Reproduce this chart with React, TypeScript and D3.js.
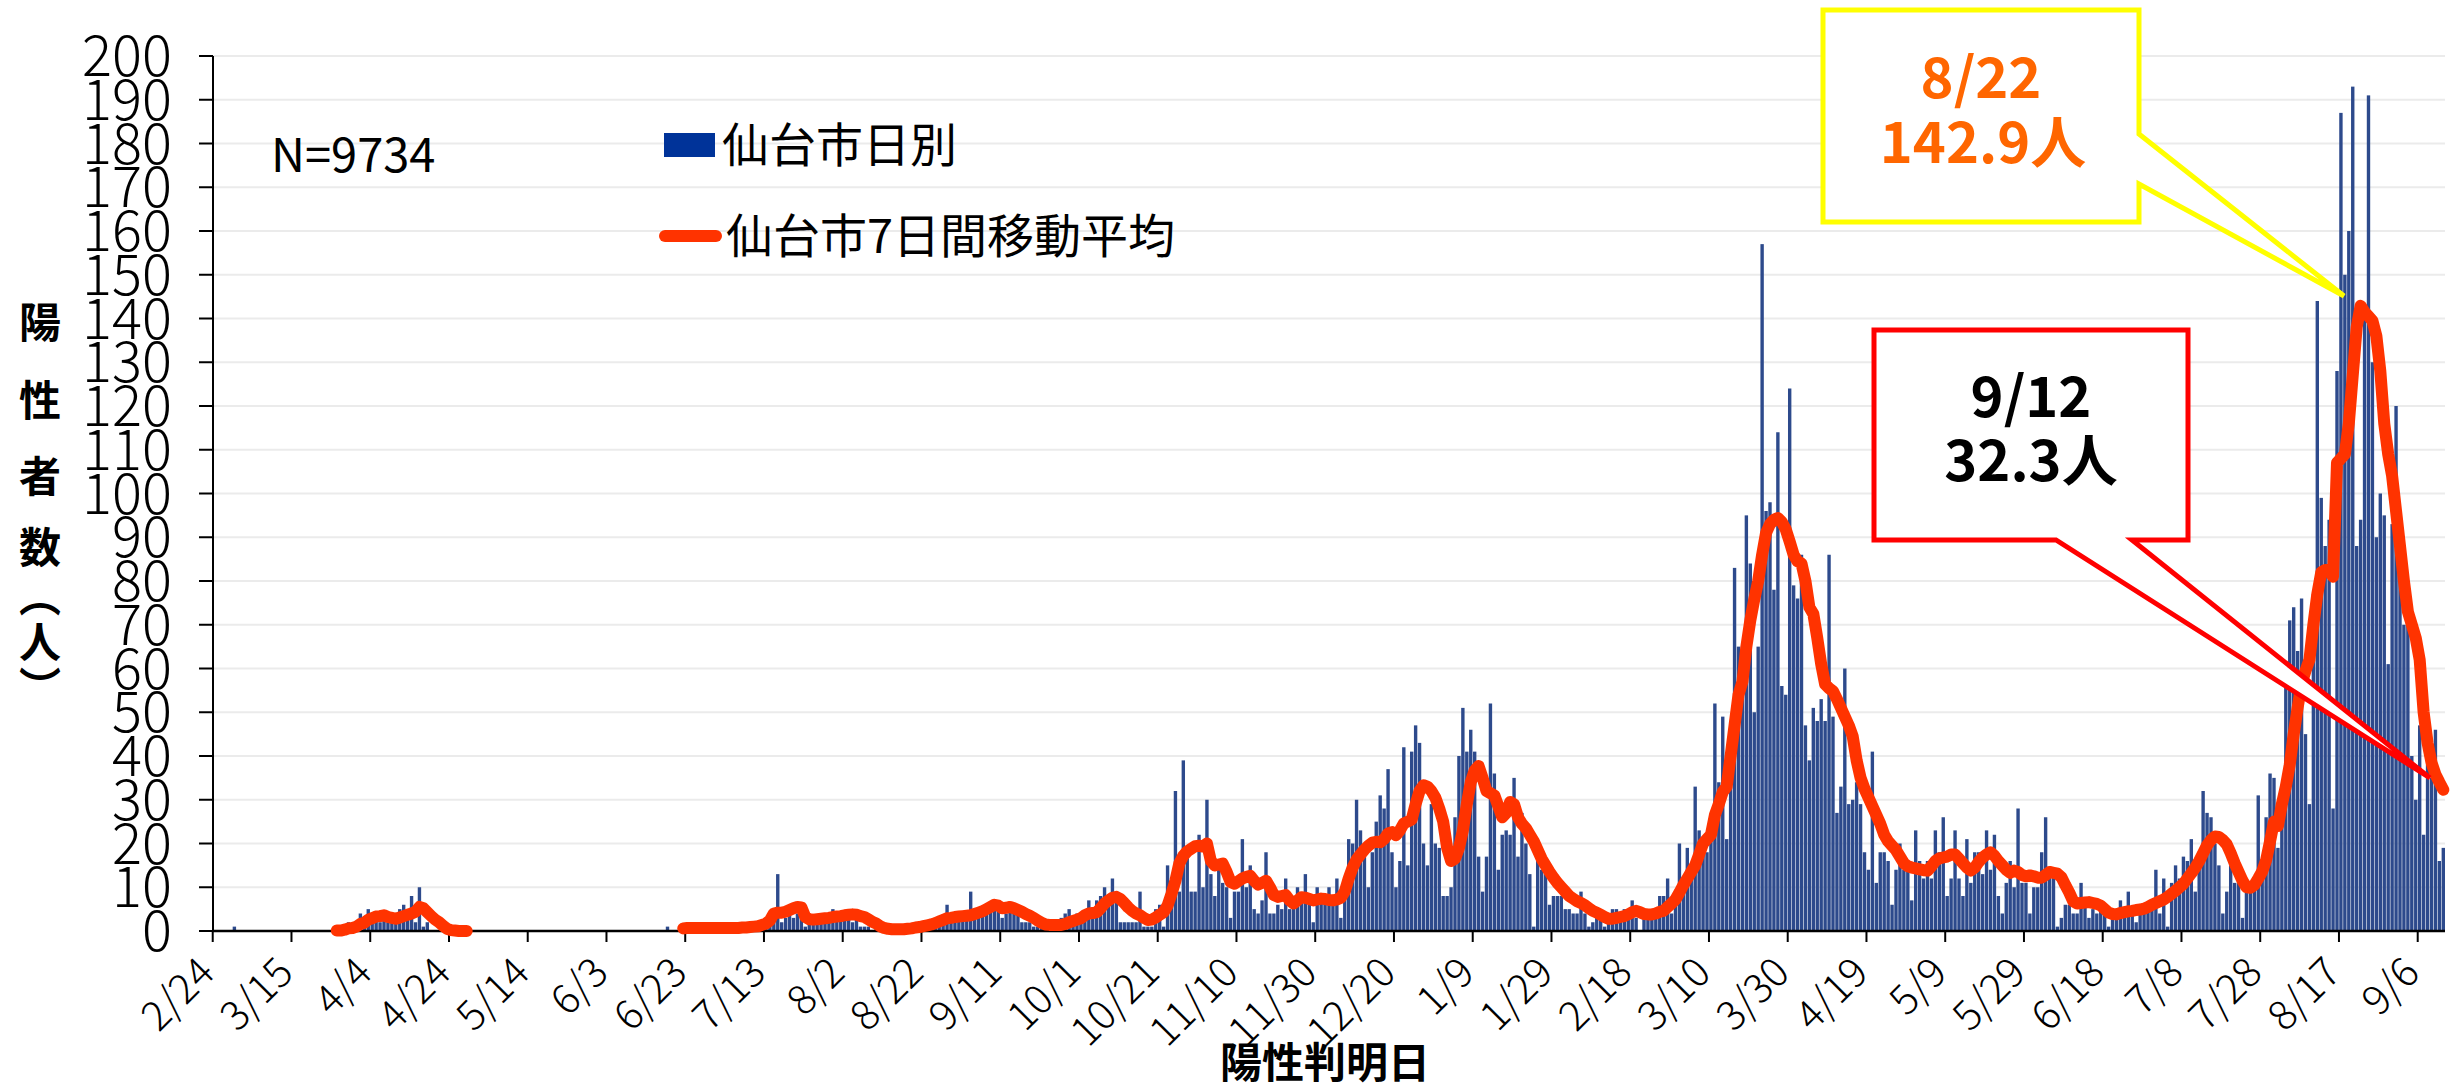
import React from 'react';
import * as d3 from 'd3';

const width = 2458;
const height = 1091;

// 仙台市日別 陽性者数（2020/2/24 - 2021/9/12）
const feb2020 = [0, 0, 0, 0, 0, 1];
const mar2020 = [0, 0, 0, 0, 0, 0, 0, 0, 0, 0, 0, 0, 0, 0, 0, 0, 0, 0, 0, 0, 0, 0, 0, 0, 0, 0, 0, 1, 2, 1, 2];
const apr2020 = [4, 2, 5, 2, 4, 2, 4, 2, 3, 2, 5, 6, 3, 8, 2, 10, 1, 2, 0, 0, 0, 0, 0, 0, 0, 0, 0, 0, 0, 0];
const may2020 = [0, 0, 0, 0, 0, 0, 0, 0, 0, 0, 0, 0, 0, 0, 0, 0, 0, 0, 0, 0, 0, 0, 0, 0, 0, 0, 0, 0, 0, 0, 0];
const jun2020 = [0, 0, 0, 0, 0, 0, 0, 0, 0, 0, 0, 0, 0, 0, 0, 0, 0, 1, 0, 0, 0, 0, 1, 0, 1, 0, 1, 0, 1, 0];
const jul2020 = [1, 0, 1, 0, 1, 0, 1, 0, 1, 1, 1, 2, 3, 2, 5, 13, 2, 3, 4, 3, 4, 4, 1, 3, 3, 3, 3, 4, 3, 5, 3];
const aug2020 = [4, 3, 4, 2, 3, 1, 1, 1, 0, 1, 0, 0, 1, 0, 0, 1, 0, 1, 0, 1, 1, 2, 1, 2, 2, 3, 3, 6, 2, 4, 3];
const sep2020 = [4, 3, 9, 4, 4, 5, 4, 5, 7, 6, 3, 4, 6, 5, 4, 2, 2, 2, 1, 1, 1, 1, 0, 1, 1, 3, 4, 5, 3, 4];
const oct2020 = [3, 3, 7, 4, 7, 8, 10, 6, 12, 9, 2, 2, 2, 2, 2, 9, 1, 1, 1, 5, 6, 1, 15, 7, 32, 9, 39, 18, 9, 9, 22];
const nov2020 = [10, 30, 13, 8, 15, 11, 10, 3, 9, 9, 21, 10, 15, 5, 4, 7, 18, 4, 4, 6, 5, 12, 5, 6, 10, 7, 13, 7, 2, 10];
const dec2020 = [7, 7, 10, 7, 12, 3, 8, 21, 20, 30, 23, 17, 10, 18, 25, 31, 28, 37, 18, 10, 16, 42, 15, 41, 47, 43, 20, 15, 29, 20, 19];
const jan2021 = [8, 8, 10, 26, 40, 51, 41, 46, 41, 17, 9, 17, 52, 36, 14, 22, 23, 22, 35, 17, 27, 20, 13, 1, 16, 14, 13, 6, 8, 8, 8];
const feb2021 = [5, 5, 4, 4, 9, 4, 1, 2, 3, 3, 1, 2, 5, 5, 4, 5, 3, 7, 3, 0, 4, 4, 4, 3, 8, 8, 12, 4];
const mar2021 = [8, 20, 10, 19, 15, 33, 23, 20, 18, 25, 52, 34, 49, 21, 39, 83, 65, 65, 95, 84, 50, 65, 157, 96, 98, 78, 114, 56, 54, 124, 79];
const apr2021 = [76, 86, 47, 39, 51, 48, 53, 48, 86, 49, 27, 33, 60, 29, 30, 34, 29, 18, 14, 41, 11, 18, 18, 16, 6, 14, 20, 14, 15, 7];
const may2021 = [23, 16, 12, 16, 12, 23, 18, 26, 8, 12, 23, 12, 8, 21, 11, 18, 18, 13, 23, 14, 22, 8, 4, 11, 16, 10, 28, 11, 11, 4, 10];
const jun2021 = [10, 18, 26, 13, 13, 1, 3, 6, 6, 4, 4, 11, 6, 3, 5, 4, 5, 4, 1, 4, 4, 7, 4, 9, 4, 2, 4, 4, 5, 5];
const jul2021 = [14, 4, 12, 1, 11, 15, 12, 17, 16, 21, 9, 15, 32, 27, 26, 20, 15, 4, 9, 15, 11, 11, 3, 9, 9, 10, 31, 15, 26, 36, 35];
const aug2021 = [19, 30, 59, 71, 74, 64, 76, 45, 29, 77, 144, 99, 88, 94, 28, 128, 187, 150, 160, 193, 88, 94, 140, 191, 130, 90, 100, 95, 61, 93, 120];
const sep2021 = [88, 70, 71, 40, 30, 47, 22, 38, 35, 46, 16, 19];

// 仙台市7日間移動平均 (null = 線なし)
const _ = null;
const maFeb2020 = [_, _, _, _, _, _];
const maMar2020 = [_, _, _, _, _, _, _, _, _, _, _, _, _, _, _, _, _, _, _, _, _, _, _, _, _, 0.1, 0.1, 0.3, 0.6, 0.7, 1.0];
const maApr2020 = [1.6, 1.9, 2.6, 2.9, 3.3, 3.4, 3.6, 3.2, 3.0, 2.8, 3.1, 3.4, 3.7, 4.0, 4.4, 5.5, 5.2, 4.3, 3.4, 2.6, 2.0, 1.2, 0.5, 0.2, 0.1, 0, 0, 0, _, _];
const maMay2020 = [_, _, _, _, _, _, _, _, _, _, _, _, _, _, _, _, _, _, _, _, _, _, _, _, _, _, _, _, _, _, _];
const maJun2020 = [_, _, _, _, _, _, _, _, _, _, _, _, _, _, _, _, _, _, _, _, _, 0.6, 0.7, 0.7, 0.7, 0.7, 0.7, 0.7, 0.7, 0.7];
const maJul2020 = [0.7, 0.7, 0.7, 0.7, 0.7, 0.7, 0.8, 0.8, 0.9, 1.0, 1.1, 1.4, 1.7, 2.4, 4.0, 4.2, 4.2, 4.4, 4.8, 5.2, 5.5, 5.4, 3.2, 2.7, 2.6, 2.7, 2.8, 2.9, 3.0, 3.2, 3.3];
const maAug2020 = [3.4, 3.6, 3.7, 3.8, 3.7, 3.4, 3.2, 2.7, 2.1, 1.7, 1.1, 0.7, 0.5, 0.4, 0.4, 0.4, 0.4, 0.5, 0.6, 0.8, 0.9, 1.1, 1.3, 1.5, 1.8, 2.2, 2.5, 2.9, 3.0, 3.2, 3.3];
const maSep2020 = [3.4, 3.5, 3.6, 3.9, 4.2, 4.5, 5.0, 5.5, 6.0, 5.8, 5.2, 5.3, 5.5, 5.2, 4.8, 4.4, 3.9, 3.5, 3.0, 2.4, 1.9, 1.5, 1.4, 1.4, 1.4, 1.4, 1.6, 2.0, 2.3, 2.6];
const maOct2020 = [2.9, 3.6, 4.0, 4.1, 4.3, 5.2, 6.3, 7.0, 7.6, 7.8, 7.3, 6.4, 5.4, 4.6, 4.0, 3.6, 3.0, 2.5, 2.6, 3.1, 3.7, 4.3, 5.8, 8.5, 11.5, 15.5, 17.2, 18.2, 18.8, 19.4, 19.5];
const maNov2020 = [19.3, 20.0, 16.0, 15.0, 15.2, 15.4, 13.5, 11.2, 10.8, 11.4, 12.0, 12.4, 12.6, 11.5, 10.6, 11.0, 11.5, 10.0, 8.2, 7.8, 8.0, 8.2, 7.0, 6.3, 7.0, 7.7, 7.6, 7.3, 7.0, 7.2];
const maDec2020 = [7.4, 7.3, 7.1, 7.0, 7.2, 7.6, 9.0, 12.0, 14.5, 16.3, 17.5, 18.6, 19.5, 20.2, 20.4, 20.3, 21.0, 22.3, 22.6, 21.9, 23.0, 24.6, 25.0, 25.5, 29.0, 32.0, 33.3, 33.0, 32.0, 30.5, 28.0];
const maJan2021 = [25.0, 19.0, 16.0, 16.5, 19.0, 23.0, 29.0, 34.0, 36.7, 37.7, 35.0, 32.0, 31.5, 31.0, 28.5, 26.0, 27.0, 29.5, 29.0, 26.0, 24.5, 23.5, 22.0, 20.5, 18.5, 16.5, 15.0, 13.5, 12.2, 11.0, 10.0];
const maFeb2021 = [9.0, 8.0, 7.4, 6.8, 6.4, 5.9, 5.2, 4.6, 4.2, 3.7, 3.2, 2.8, 2.8, 3.0, 3.2, 3.4, 3.8, 4.3, 4.6, 4.3, 3.9, 3.8, 3.8, 4.0, 4.4, 4.6, 5.5, 6.3];
const maMar2021 = [7.2, 8.8, 10.5, 12.0, 13.5, 15.0, 17.5, 20.0, 21.0, 22.0, 26.5, 29.0, 31.8, 33.0, 40.0, 47.0, 54.0, 57.0, 65.0, 71.0, 75.8, 80.0, 86.0, 91.0, 93.0, 94.0, 94.4, 93.5, 91.8, 89.0, 86.0];
const maApr2021 = [84.5, 84.0, 80.0, 74.0, 72.5, 67.0, 61.0, 56.4, 55.5, 54.8, 53.0, 51.0, 49.0, 47.0, 44.5, 39.0, 35.0, 32.5, 30.5, 28.5, 26.5, 24.5, 22.0, 20.5, 19.5, 18.5, 17.0, 15.5, 14.8, 14.5];
const maMay2021 = [14.3, 14.1, 13.9, 13.8, 14.8, 16.0, 16.6, 16.8, 17.0, 17.5, 17.5, 16.5, 15.5, 14.5, 13.8, 14.5, 15.8, 16.8, 17.5, 18.0, 17.2, 16.0, 15.0, 14.0, 13.3, 13.8, 13.5, 12.8, 12.5, 12.7, 12.5];
const maJun2021 = [12.2, 12.2, 12.8, 13.5, 13.3, 13.1, 12.3, 10.5, 8.8, 6.8, 6.3, 6.4, 6.5, 6.6, 6.4, 6.2, 5.8, 5.0, 4.2, 3.9, 3.8, 4.1, 4.3, 4.5, 4.6, 4.8, 4.9, 5.1, 5.5, 6.0];
const maJul2021 = [6.4, 6.8, 7.2, 7.8, 8.5, 9.2, 10.0, 10.8, 12.0, 13.2, 14.5, 16.0, 17.8, 19.6, 20.8, 21.6, 21.5, 20.8, 19.8, 17.8, 15.5, 13.5, 11.5, 10.0, 9.9, 10.5, 12.0, 13.6, 16.2, 20.5, 25.0];
const maAug2021 = [24.0, 29.0, 33.0, 38.0, 45.0, 51.0, 56.5, 59.5, 62.0, 70.0, 77.0, 82.0, 82.5, 82.5, 81.0, 107.0, 108.0, 109.0, 116.0, 127.0, 138.0, 142.9, 141.5, 140.5, 139.5, 136.0, 128.0, 116.0, 109.0, 104.0, 96.0];
const maSep2021 = [88.0, 80.0, 73.0, 70.0, 67.0, 62.0, 50.0, 43.0, 38.5, 35.8, 34.0, 32.3];

const tickLabels = ['2/24', '3/15', '4/4', '4/24', '5/14', '6/3', '6/23', '7/13', '8/2', '8/22', '9/11', '10/1', '10/21', '11/10', '11/30', '12/20', '1/9', '1/29', '2/18', '3/10', '3/30', '4/19', '5/9', '5/29', '6/18', '7/8', '7/28', '8/17', '9/6'];
const tickEvery = 20;

const daily: number[] = [
  feb2020, mar2020, apr2020, may2020, jun2020, jul2020, aug2020, sep2020, oct2020, nov2020, dec2020,
  jan2021, feb2021, mar2021, apr2021, may2021, jun2021, jul2021, aug2021, sep2021,
].flat();
const movingAvg: (number | null)[] = [
  maFeb2020, maMar2020, maApr2020, maMay2020, maJun2020, maJul2020, maAug2020, maSep2020, maOct2020, maNov2020, maDec2020,
  maJan2021, maFeb2021, maMar2021, maApr2021, maMay2021, maJun2021, maJul2021, maAug2021, maSep2021,
].flat();

const FONT = '"Noto Sans CJK JP", "Noto Sans", sans-serif';

const yTitle = [
  { ch: '陽', y: 323 },
  { ch: '性', y: 401 },
  { ch: '者', y: 477 },
  { ch: '数', y: 548 },
  { ch: '︵', y: 597 },
  { ch: '人', y: 643 },
  { ch: '︶', y: 688 },
];

const App: React.FC = () => {
  const margin = { top: 56, left: 213, right: 2445, bottom: 931 };
  const idx = d3.range(daily.length);

  const x = d3.scaleBand<number>()
    .domain(idx)
    .range([margin.left, margin.right])
    .paddingInner(0.14)
    .paddingOuter(0);
  const y = d3.scaleLinear().domain([0, 200]).range([margin.bottom, margin.top]);

  const half = (x.step() - x.bandwidth()) / 2;
  const boundary = (i: number) => (x(i) ?? 0) - half;
  const center = (i: number) => (x(i) ?? 0) + x.bandwidth() / 2;

  const line = d3.line<number | null>()
    .defined(d => d != null)
    .x((_d, i) => center(i))
    .y(d => y(d as number));

  const yTicks = y.ticks(20);

  // callouts
  const yb = { x0: 1823, x1: 2139, y0: 10, y1: 222, w0: 134, w1: 184, tip: [2344, 296] };
  const rb = { x0: 1874, x1: 2188, y0: 330, y1: 540, w0: 2056, w1: 2132, tip: [2430, 778] };
  const yellowPath = `M${yb.x0},${yb.y0}H${yb.x1}V${yb.w0}L${yb.tip[0]},${yb.tip[1]}L${yb.x1},${yb.w1}V${yb.y1}H${yb.x0}Z`;
  const redPath = `M${rb.x0},${rb.y0}H${rb.x1}V${rb.y1}H${rb.w1}L${rb.tip[0]},${rb.tip[1]}L${rb.w0},${rb.y1}H${rb.x0}Z`;

  return (
    <svg
      width={width}
      height={height}
      style={{ position: 'absolute', left: 0, top: 0, background: '#fff' }}
      fontFamily={FONT}
    >
      {/* gridlines */}
      {yTicks.filter(t => t > 0).map(t => (
        <line key={`g${t}`} x1={margin.left} x2={margin.right} y1={y(t)} y2={y(t)} stroke="#ebebeb" strokeWidth={2} />
      ))}

      {/* bars */}
      {daily.map((v, i) => v > 0 && (
        <rect key={`b${i}`} x={x(i)} y={y(v)} width={x.bandwidth()} height={y(0) - y(v)} fill="#2d4a8c" />
      ))}

      {/* y axis */}
      <line x1={margin.left} x2={margin.left} y1={margin.top} y2={margin.bottom} stroke="#000" strokeWidth={2} />
      {yTicks.map(t => (
        <g key={`yt${t}`}>
          <line x1={margin.left - 14} x2={margin.left} y1={y(t)} y2={y(t)} stroke="#000" strokeWidth={2} />
          <text x={172} y={y(t)} dy="0.36em" textAnchor="end" fontSize={56} fontWeight={300} fill="#000">{t}</text>
        </g>
      ))}

      {/* x axis */}
      <line x1={margin.left} x2={margin.right} y1={margin.bottom} y2={margin.bottom} stroke="#000" strokeWidth={2.5} />
      {tickLabels.map((lab, k) => {
        const i = k * tickEvery;
        const bx = boundary(i);
        const cx = center(i);
        return (
          <g key={`xt${k}`}>
            <line x1={bx} x2={bx} y1={margin.bottom} y2={margin.bottom + 11} stroke="#000" strokeWidth={2} />
            <text
              transform={`translate(${cx + 2},${margin.bottom + 44}) rotate(-45)`}
              textAnchor="end"
              fontSize={41}
              fontWeight={300}
              fill="#000"
            >{lab}</text>
          </g>
        );
      })}

      {/* moving average */}
      <path d={line(movingAvg) ?? ''} fill="none" stroke="#ff3300" strokeWidth={12} strokeLinejoin="round" strokeLinecap="round" />

      {/* legend */}
      <rect x={664} y={133} width={51} height={24} fill="#003399" />
      <text x={722} y={145} dy="0.36em" fontSize={47} fill="#000">仙台市日別</text>
      <line x1={665} x2={716} y1={236} y2={236} stroke="#ff3300" strokeWidth={12} strokeLinecap="round" />
      <text x={726} y={236} dy="0.36em" fontSize={47} fill="#000">仙台市7日間移動平均</text>

      <text x={271} y={155} dy="0.36em" fontSize={47} fill="#000">N=9734</text>

      {/* axis titles */}
      {yTitle.map(d => (
        <text key={d.ch} x={40} y={d.y} dy="0.36em" textAnchor="middle" fontSize={42} fontWeight={700} fill="#000">{d.ch}</text>
      ))}
      <text x={1325} y={1078} textAnchor="middle" fontSize={42} fontWeight={700} fill="#000">陽性判明日</text>

      {/* callouts */}
      <path d={yellowPath} fill="#fff" stroke="#ffff00" strokeWidth={5} />
      <text x={1981} y={98} textAnchor="middle" fontSize={56} fontWeight={700} fill="#ff6600">8/22</text>
      <text x={1983} y={163} textAnchor="middle" fontSize={56} fontWeight={700} fill="#ff6600">142.9人</text>

      <path d={redPath} fill="#fff" stroke="#ff0000" strokeWidth={5} />
      <text x={2031} y={417} textAnchor="middle" fontSize={56} fontWeight={700} fill="#000">9/12</text>
      <text x={2031} y={481} textAnchor="middle" fontSize={56} fontWeight={700} fill="#000">32.3人</text>
    </svg>
  );
};

export default App;
